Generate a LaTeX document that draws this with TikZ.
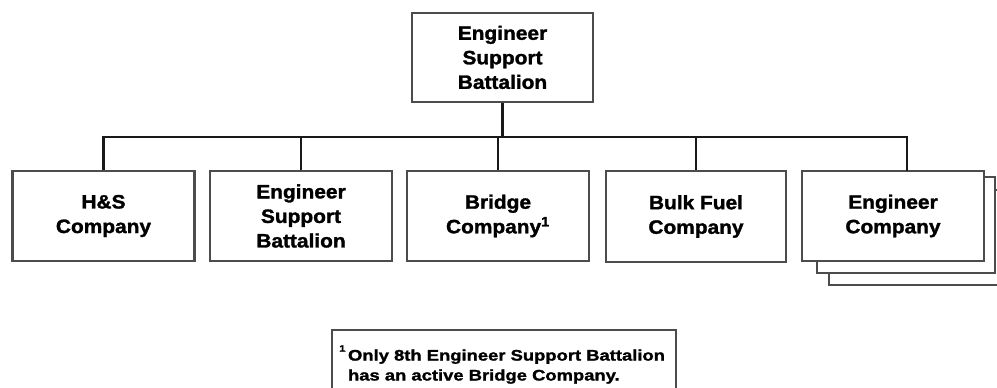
\documentclass[tikz,border=0pt]{standalone}
\usepackage{fontspec}
\setmainfont{Liberation Sans}[FakeStretch=1.08, BoldFeatures={FakeBold=1.5}]
\newfontfamily\fnfont{Liberation Sans}[FakeStretch=1.2, BoldFeatures={FakeBold=1.5}]
\begin{document}
\begin{tikzpicture}[x=0.75pt,y=-0.75pt,
  orgbox/.style={draw=black!70, line width=1.6pt, fill=white, align=center,
    minimum width=136.5pt, minimum height=67.5pt, inner sep=0pt,
    font=\fontsize{14.5}{18.4}\selectfont\bfseries},
  conn/.style={draw=black!90, line width=1.8pt},
  stackbox/.style={draw=black!70, line width=1.6pt, fill=white}]
\useasboundingbox (0,0) rectangle (997,387);
\clip (0,0) rectangle (997,387);
% stacked copies behind Engineer Company
\draw[stackbox] (829,190) rectangle (1010,285);
\draw[stackbox] (817,177) rectangle (995,273);
% boxes
\node[orgbox, minimum width=135.75pt, minimum height=67pt] (top) at (502.5,57.4) {Engineer\\Support\\Battalion};
\node[orgbox] (hs) at (103.5,216) {H\&S\\Company};
\node[orgbox] (esb) at (301,216) {Engineer\\Support\\Battalion};
\node[orgbox] (bridge) at (498,216) {Bridge\\Company\textsuperscript{1}};
\node[orgbox, minimum width=135pt, minimum height=68.25pt] (fuel) at (696,216.5) {Bulk Fuel\\Company};
\node[orgbox] (eng) at (893,216) {Engineer\\Company};
% connectors
\coordinate (bus) at (0,137);
\coordinate (engtop) at (907,171);
\draw[conn] (top.south) -- (top.south |- bus);
\draw[conn] (hs.north) |- (engtop |- bus) -- (engtop);
\foreach \b in {esb,bridge,fuel} \draw[conn] (\b.north) -- (\b.north |- bus);
% footnote
\draw[draw=black!70, line width=1.6pt] (331.7,330) rectangle (676,400);
\node[anchor=north west, inner sep=0pt, align=left,
  font=\fnfont\fontsize{11.5}{13.2}\selectfont\bfseries] (note) at (339,345)
  {\raisebox{1.1ex}{\fontsize{7}{7}\selectfont 1}\,Only 8th Engineer Support Battalion\\
   \phantom{\raisebox{1.1ex}{\fontsize{7}{7}\selectfont 1}\,}has an active Bridge Company.};
\end{tikzpicture}
\end{document}
